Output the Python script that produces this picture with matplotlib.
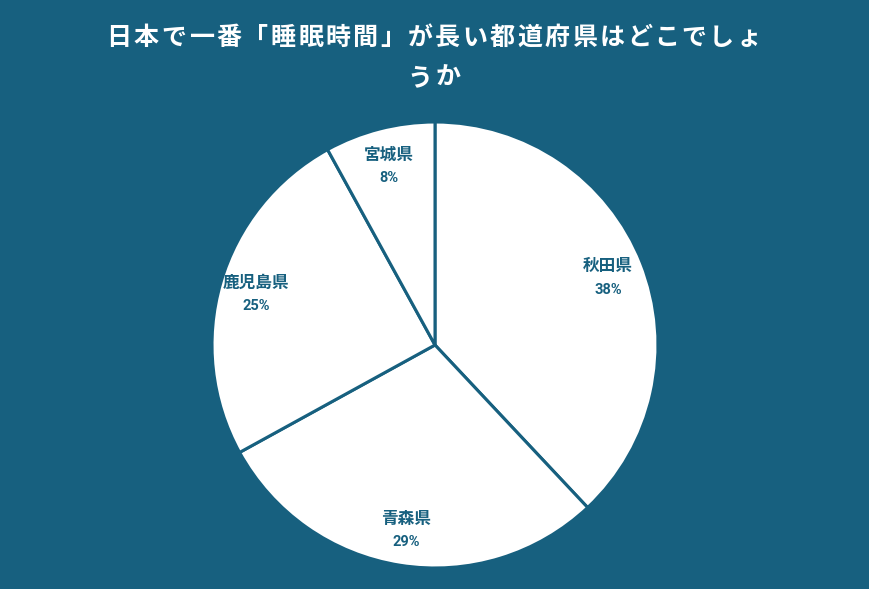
import matplotlib
matplotlib.use("Agg")
import matplotlib.pyplot as plt
import numpy as np

plt.rcParams['font.family'] = ['Noto Sans CJK JP', 'DejaVu Sans']

categories = ["秋田県", "青森県", "鹿児島県", "宮城県"]
values = [38, 29, 25, 8]
title_lines = ["日本で一番「睡眠時間」が長い都道府県はどこでしょ", "うか"]

BG = "#17607f"
W, H = 870, 589
fig = plt.figure(figsize=(W / 100, H / 100), dpi=100, facecolor=BG)

cx, cy, r = 435, 345, 223
ax = fig.add_axes([(cx - r) / W, (H - cy - r) / H, 2 * r / W, 2 * r / H])
ax.set_facecolor(BG)
wedges, _ = ax.pie(values, startangle=90, counterclock=False, radius=1,
                   colors=["white"] * len(values),
                   wedgeprops=dict(edgecolor=BG, linewidth=2.2))
ax.set_xlim(-1.0, 1.0)
ax.set_ylim(-1.0, 1.0)
ax.set_aspect('equal')
ax.axis('off')

total = sum(values)
start = 90.0
for cat, v in zip(categories, values):
    sweep = 360.0 * v / total
    mid = np.deg2rad(start - sweep / 2)
    start -= sweep
    lx, ly = 0.835 * np.cos(mid), 0.835 * np.sin(mid)
    ax.text(lx, ly + 0.045, cat, ha='center', va='center', color=BG,
            fontsize=12, fontweight='bold')
    ax.text(lx, ly - 0.06, f"{v}%", ha='center', va='center', color=BG,
            fontsize=10.5, fontweight='bold', family=['Roboto', 'DejaVu Sans'])

pitch = 27.4
for line, ypix in zip(title_lines, [38, 78]):
    n = len(line)
    x0 = 434 - pitch * (n - 1) / 2
    for i, ch in enumerate(line):
        fig.text((x0 + i * pitch) / W, 1 - ypix / H, ch, ha='center', va='center',
                 color='white', fontsize=18, fontweight='bold')

fig.savefig("out.png", dpi=100, facecolor=BG)
